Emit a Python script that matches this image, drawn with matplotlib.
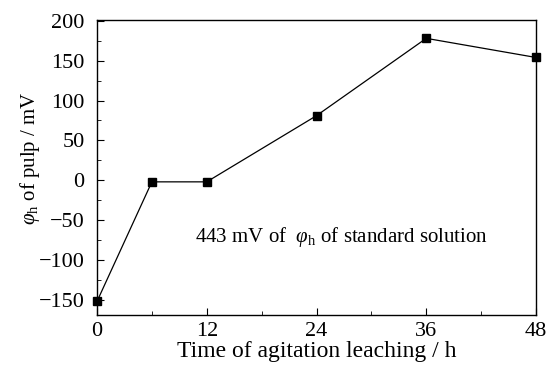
import matplotlib
matplotlib.use("Agg")
import matplotlib.pyplot as plt
from matplotlib.ticker import MultipleLocator

plt.rcParams['font.family'] = ['Liberation Serif', 'DejaVu Serif']
plt.rcParams['mathtext.fontset'] = 'custom'
plt.rcParams['mathtext.rm'] = 'Liberation Serif'
plt.rcParams['mathtext.it'] = 'Liberation Serif:italic'

time_h = [0, 6, 12, 24, 36, 48]
potential_mv = [-152, -2, -2, 81, 178, 154]
xticks = [0, 12, 24, 36, 48]
yticks = [-150, -100, -50, 0, 50, 100, 150, 200]

fig = plt.figure(figsize=(5.46, 3.77), dpi=100)
ax = fig.add_axes([97/546, 1-315/377, (536-97)/546, (315-20)/377])
ax.plot(time_h, potential_mv, color='black', lw=0.9, marker='s', ms=6, mfc='black', mec='black', clip_on=False, zorder=3)
ax.set_xlim(0, 48)
ax.set_ylim(-169, 201)
ax.set_xticks(xticks)
ax.set_yticks(yticks)
ax.xaxis.set_minor_locator(MultipleLocator(6))
ax.yaxis.set_minor_locator(MultipleLocator(25))
ax.tick_params(which='both', direction='in', labelsize=16)
ax.tick_params(axis='y', which='major', pad=9)
ax.tick_params(axis='x', which='major', pad=5)
ax.tick_params(which='major', length=5)
ax.tick_params(which='minor', length=3)
ax.set_xticklabels([str(t) for t in xticks])
ax.set_yticklabels([str(t).replace('-', '\u2212') for t in yticks])
for s in ax.spines.values():
    s.set_linewidth(1.0)
ax.set_xlabel('Time of agitation leaching / h', fontsize=17, labelpad=0)
ax.set_ylabel(r'$\mathit{\varphi}_{\mathrm{h}}$ of pulp / mV', fontsize=15)
ax.yaxis.set_label_coords(-0.125, 0.53)
ax.text(10.7, -78, r'443 mV of  $\mathit{\varphi}_{\mathrm{h}}$ of standard solution', fontsize=15, va='baseline', ha='left')
fig.savefig('out.png', dpi=100)
